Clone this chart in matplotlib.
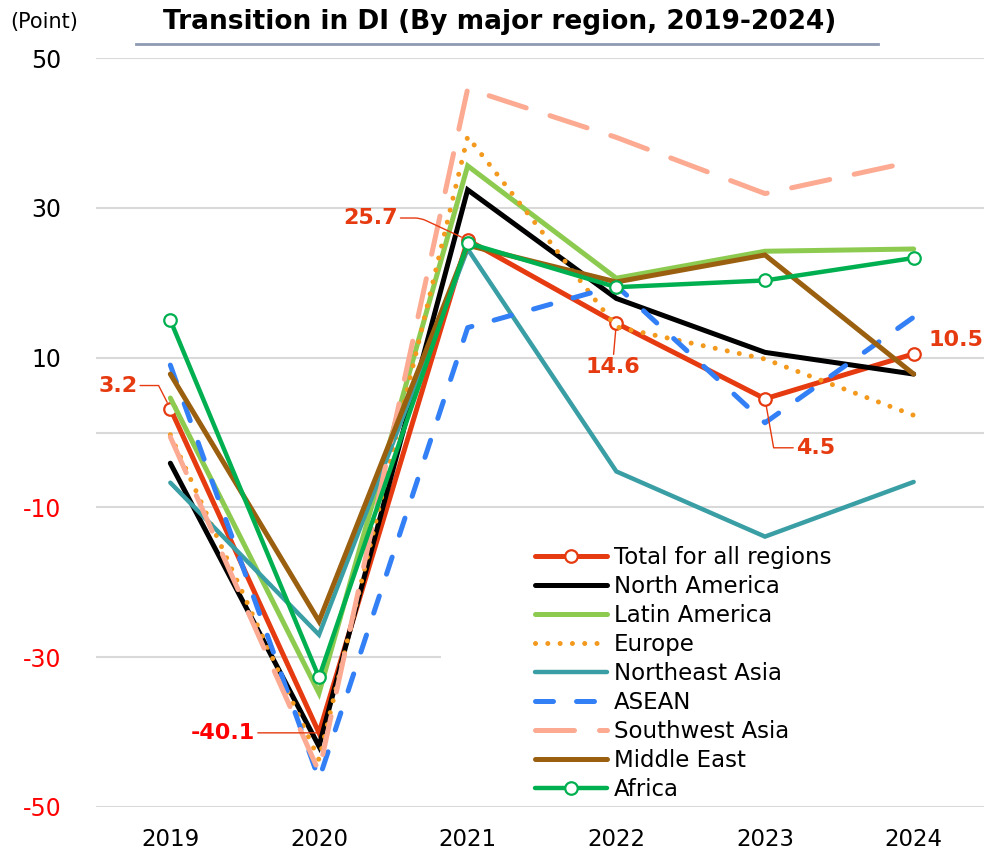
import matplotlib
matplotlib.use("Agg")
import matplotlib.pyplot as plt
from matplotlib.patches import Rectangle
from matplotlib.lines import Line2D

years = ['2019', '2020', '2021', '2022', '2023', '2024']
total = [3.2, -40.1, 25.7, 14.6, 4.5, 10.5]
north_america = [-4.1, -41.9, 32.4, 17.9, 10.7, 7.8]
latin_america = [4.6, -34.8, 35.6, 20.6, 24.2, 24.5]
europe = [-0.3, -43.7, 39.5, 14.1, 9.8, 2.3]
northeast_asia = [-6.7, -27.0, 24.5, -5.2, -13.9, -6.6]
asean = [9.0, -46.3, 14.0, 19.6, 1.3, 15.4]
southwest_asia = [-0.6, -45.3, 45.9, 39.4, 31.9, 36.2]
middle_east = [7.8, -25.2, 25.0, 20.1, 23.7, 7.8]
africa = [15.0, -32.7, 25.3, 19.4, 20.3, 23.3]

series_names = ['Total for all regions', 'North America', 'Latin America', 'Europe',
                'Northeast Asia', 'ASEAN', 'Southwest Asia', 'Middle East', 'Africa']
yticks = [50, 30, 10, -10, -30, -50]
grid_values = [50, 30, 10, 0, -10, -30, -50]

RED = '#E63A10'
W, H = 984, 852
fig = plt.figure(figsize=(W / 100, H / 100), dpi=100)
ax = fig.add_axes([96 / W, 45 / H, (988 - 96) / W, (807 - 58) / H])
ax.set_xlim(-0.5, 5.5)
ax.set_ylim(-50, 50)
for s in ax.spines.values():
    s.set_visible(False)

x = list(range(len(years)))

for g in grid_values:
    ax.axhline(g, color='#D9D9D9', lw=1.5, zorder=0.5)

# white legend area covering grid lines
ax.add_patch(Rectangle((441 / W, (H - 803) / H), (984 - 441) / W, (803 - 540) / H,
                       transform=fig.transFigure, facecolor='white', edgecolor='none',
                       zorder=0.8))

lw = 3.6
styles = [
    dict(data=total, color=RED, lw=lw, marker='o', mfc='white', mec=RED, ms=9, mew=1.6),
    dict(data=north_america, color='black', lw=lw),
    dict(data=latin_america, color='#8DCB50', lw=lw),
    dict(data=europe, color='#F39A1E', lw=lw, ls=(0, (0.01, 2.45)), dash_capstyle='round'),
    dict(data=northeast_asia, color='#3A9EA5', lw=3.2),
    dict(data=asean, color='#3380F6', lw=lw, ls=(0, (3.6, 4.6)), dash_capstyle='round'),
    dict(data=southwest_asia, color='#FCAA92', lw=lw, ls=(0, (7.8, 5.0)), dash_capstyle='round'),
    dict(data=middle_east, color='#9A6010', lw=lw),
    dict(data=africa, color='#00B050', lw=3.2, marker='o', mfc='white', mec='#00B050', ms=9,
         mew=1.6),
]
leg_handles = []
for i, (name, st) in enumerate(zip(series_names, styles)):
    st = dict(st)
    data = st.pop('data')
    extra = {}
    if i == 0:
        extra['markevery'] = [0, 2, 3, 4, 5]
    ax.plot(x, data, zorder=2 + i, solid_capstyle='round', solid_joinstyle='miter',
            **st, **extra)
    leg_handles.append(Line2D([], [], solid_capstyle='round', **st))

leg = ax.legend(leg_handles, series_names, loc='upper left',
                bbox_to_anchor=(535 / W, (H - 546) / H), bbox_transform=fig.transFigure,
                frameon=False, fontsize=16.5, handlelength=3.15, handletextpad=0.28,
                labelspacing=0.26, borderpad=0, borderaxespad=0, numpoints=1)

# ticks
ax.set_xticks(x)
ax.set_xticklabels(years, fontsize=16.5)
ax.set_yticks(yticks)
ax.set_yticklabels([str(v) for v in yticks], fontsize=17)
for lbl, v in zip(ax.get_yticklabels(), yticks):
    lbl.set_color('#FF0000' if v < 0 else 'black')
ax.tick_params(axis='both', length=0)
ax.tick_params(axis='y', pad=25)
ax.tick_params(axis='x', pad=15)

# annotations for total
bold = dict(fontsize=16, fontweight='bold', color=RED)
ax.annotate(f'{total[0]}', xy=(0, total[0]), xytext=(-33, 23), textcoords='offset pixels',
            ha='right', va='center', zorder=30,
            arrowprops=dict(arrowstyle='-', color=RED, lw=1, relpos=(1, 0.5), shrinkA=0,
                            shrinkB=5, connectionstyle='angle,angleA=0,angleB=117,rad=0'),
            **bold)
ax.annotate(f'{total[2]}', xy=(2, total[2]), xytext=(-70, 22), textcoords='offset pixels',
            ha='right', va='center', zorder=30,
            arrowprops=dict(arrowstyle='-', color=RED, lw=1, relpos=(1, 0.5), shrinkA=0,
                            shrinkB=5, connectionstyle='angle,angleA=0,angleB=155,rad=6'),
            **bold)
ax.annotate(f'{total[3]}', xy=(3, total[3]), xytext=(-3, -44), textcoords='offset pixels',
            ha='center', va='center', zorder=30,
            arrowprops=dict(arrowstyle='-', color=RED, lw=1, relpos=(0.5, 1), shrinkA=0,
                            shrinkB=5),
            **bold)
ax.annotate(f'{total[4]}', xy=(4, total[4]), xytext=(31, -49), textcoords='offset pixels',
            ha='left', va='center', zorder=30,
            arrowprops=dict(arrowstyle='-', color=RED, lw=1, relpos=(0, 0.5), shrinkA=0,
                            shrinkB=5, connectionstyle='angle,angleA=0,angleB=100,rad=0'),
            **bold)
ax.annotate(f'{total[5]}', xy=(5, total[5]), xytext=(15, 14), textcoords='offset pixels',
            ha='left', va='center', zorder=30, annotation_clip=False, **bold)
ax.annotate(f'{total[1]}', xy=(1, total[1]), xytext=(-64, 0), textcoords='offset pixels',
            ha='right', va='center', zorder=30, fontsize=16, fontweight='bold',
            color='#FF0000',
            arrowprops=dict(arrowstyle='-', color=RED, lw=1, relpos=(1, 0.5), shrinkA=0,
                            shrinkB=0))

# title and unit
fig.text(500 / W, 1 - 22 / H, 'Transition in DI (By major region, 2019-2024)',
         ha='center', va='center', fontsize=19, fontweight='bold')
fig.add_artist(Line2D([136 / W, 878 / W], [1 - 44 / H, 1 - 44 / H], color='#8E9BB3', lw=2,
                      transform=fig.transFigure))
fig.text(10 / W, 1 - 22 / H, '(Point)', ha='left', va='center', fontsize=15)

fig.savefig('out.png', dpi=100)
